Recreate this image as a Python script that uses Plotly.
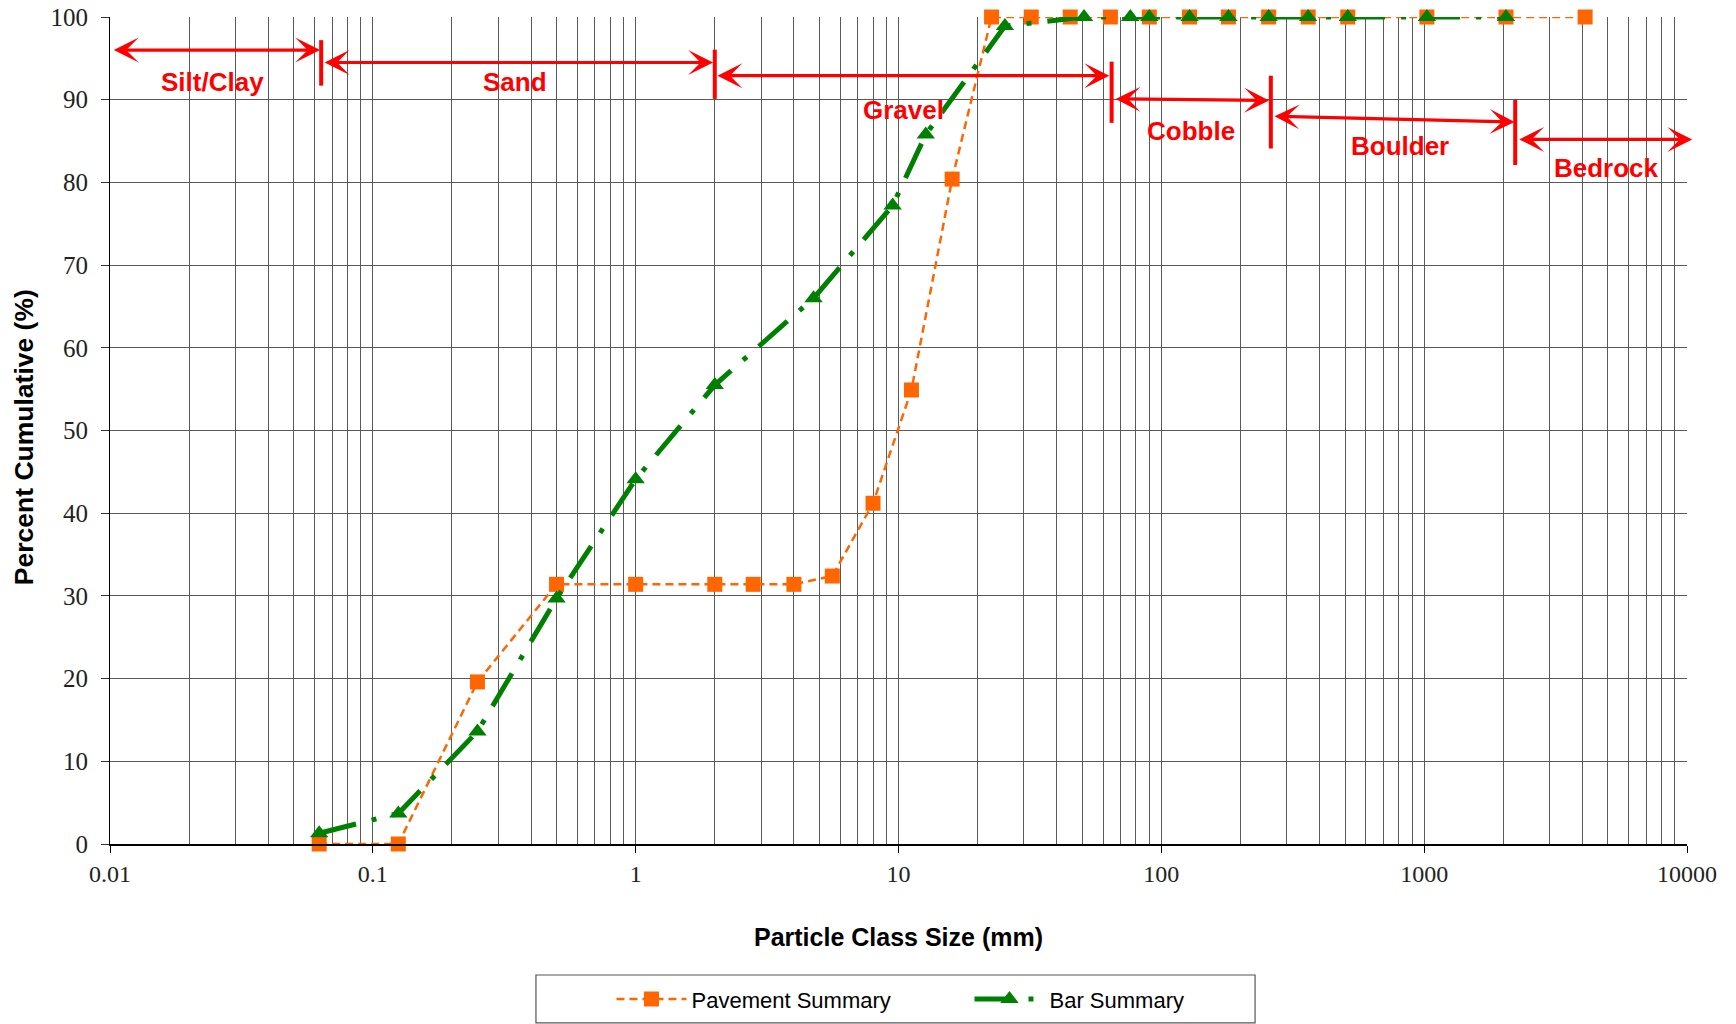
import numpy as np
import plotly.graph_objects as go

# ---- Particle size distribution data (mm vs cumulative percent finer) ----
pavement_size_mm = [0.0625, 0.125, 0.25, 0.5, 1, 2, 2.8, 4, 5.6, 8, 11.2, 16,
                    22.6, 32, 45, 64, 90, 128, 180, 256, 362, 512, 1024, 2048, 4096]
pavement_pct = [0, 0, 19.6, 31.4, 31.4, 31.4, 31.4, 31.4, 32.4, 41.2, 54.9, 80.4,
                100, 100, 100, 100, 100, 100, 100, 100, 100, 100, 100, 100, 100]

bar_size_mm = [0.0625, 0.125, 0.25, 0.5, 1, 2, 4.75, 9.5, 12.7, 25.4,
               50.8, 76.2, 90, 128, 180, 256, 362, 512, 1024, 2048]
bar_pct = [1.3, 3.7, 13.6, 29.7, 44.1, 55.5, 66.0, 77.2, 85.8, 98.9,
           100, 100, 100, 100, 100, 100, 100, 100, 100, 100]

# ---- Axis ticks ----
decade_vals = [0.01, 0.1, 1, 10, 100, 1000, 10000]
decade_text = ["0.01", "0.1", "1", "10", "100", "1000", "10000"]
minor_vals = [m * 10.0 ** k for k in range(-2, 4) for m in range(2, 10)]
pct_ticks = list(range(0, 101, 10))

# ---- Size class names ----
class_names = ["Silt/Clay", "Sand", "Gravel", "Cobble", "Boulder", "Bedrock"]

# Layout of the red class markers: arrow span (mm) and height (%), label spot
class_arrows = [
    (0.0102, 0.0630, 96.0, 96.0),
    (0.0647, 1.97, 94.5, 94.5),
    (2.02, 63.4, 92.9, 92.9),
    (66.1, 257, 90.1, 89.9),
    (266, 2208, 88.0, 87.3),
    (2270, 10470, 85.2, 85.2),
]
class_label_pos = [(0.02464, 92.1), (0.3485, 92.1), (10.45, 88.8),
                   (129.7, 86.2), (811, 84.4), (4920, 81.7)]
divider_x_mm = [0.0636, 2.0, 64.7, 261, 2220]
divider_span = [(91.7, 97.2), (90.1, 96.05), (87.2, 94.6), (84.1, 92.9), (82.1, 90.0)]

ORANGE = "#FF6600"
GREEN = "#008000"
RED = "#FF0000"
GRID = "#5a5a5a"
SANS = "Liberation Sans, Arial, sans-serif"
SERIF = "Liberation Serif, Times New Roman, serif"

fig = go.Figure()

fig.add_trace(go.Scatter(
    x=pavement_size_mm, y=pavement_pct, name="Pavement Summary",
    mode="lines+markers", cliponaxis=False,
    line=dict(color=ORANGE, width=2.5, dash="8px,5px"),
    marker=dict(symbol="square", size=15, color=ORANGE),
))
fig.add_trace(go.Scatter(
    x=bar_size_mm, y=bar_pct, name="Bar Summary",
    mode="lines+markers", cliponaxis=False,
    line=dict(color=GREEN, width=5, dash="38px,16px,5px,16px"),
    marker=dict(symbol="triangle-up", size=16, color=GREEN),
))

# vertical class dividers
for xd, (y0, y1) in zip(divider_x_mm, divider_span):
    fig.add_trace(go.Scatter(
        x=[xd, xd], y=[y0, y1], mode="lines", showlegend=False,
        hoverinfo="skip", cliponaxis=False,
        line=dict(color=RED, width=4),
    ))

# double-headed class arrows (annotation coordinates are log10 on a log axis)
for (x0, x1, y0, y1) in class_arrows:
    fig.add_annotation(
        x=np.log10(x1), y=y1, ax=np.log10(x0), ay=y0,
        xref="x", yref="y", axref="x", ayref="y",
        text="", showarrow=True, arrowside="end+start",
        arrowhead=3, startarrowhead=3, arrowsize=1.3, startarrowsize=1.3,
        arrowwidth=3.2, arrowcolor=RED, standoff=0, startstandoff=0,
    )

for name, (lx, ly) in zip(class_names, class_label_pos):
    fig.add_annotation(
        x=np.log10(lx), y=ly, xref="x", yref="y", text="<b>%s</b>" % name,
        showarrow=False, font=dict(family=SANS, size=26, color=RED),
        xanchor="center", yanchor="middle",
    )

# y-axis title, set slightly below the plot centre
fig.add_annotation(
    x=-0.0545, y=0.492, xref="paper", yref="paper", textangle=-90,
    text="<b>Percent Cumulative (%)</b>", showarrow=False,
    font=dict(family=SANS, size=26.5, color="black"),
    xanchor="center", yanchor="middle",
)

# legend frame
fig.add_shape(type="rect", xref="paper", yref="paper",
              x0=0.2701, x1=0.7261, y0=-0.2164, y1=-0.1584,
              line=dict(color="#555555", width=1.2), fillcolor="rgba(0,0,0,0)")

fig.update_layout(
    width=1736, height=1024,
    margin=dict(l=110, r=49, t=17, b=180, autoexpand=False),
    plot_bgcolor="white", paper_bgcolor="white",
    showlegend=True,
    legend=dict(
        orientation="h", x=0.318, xanchor="left", y=-0.1876, yanchor="middle",
        font=dict(family=SANS, size=22, color="black"),
        itemwidth=70, entrywidth=273, bgcolor="rgba(0,0,0,0)", borderwidth=0,
    ),
    xaxis=dict(
        type="log", range=[-2, 4],
        tickmode="array", tickvals=decade_vals, ticktext=decade_text,
        ticks="outside", ticklen=7, tickcolor="black", tickwidth=1,
        showgrid=True, gridcolor=GRID, gridwidth=1,
        minor=dict(tickvals=minor_vals, showgrid=True, gridcolor=GRID,
                   gridwidth=1, ticks=""),
        showline=True, linecolor="black", linewidth=1.5, zeroline=False,
        tickfont=dict(family=SERIF, size=24, color="#222222"),
        title=dict(text="<b>Particle Class Size (mm)</b>", standoff=43,
                   font=dict(family=SANS, size=25, color="black")),
    ),
    yaxis=dict(
        range=[0, 100], tickmode="array", tickvals=pct_ticks,
        ticks="outside", ticklen=8, tickcolor="#333333",
        showgrid=True, gridcolor=GRID, gridwidth=1,
        showline=True, linecolor="black", linewidth=1, zeroline=False,
        tickfont=dict(family=SERIF, size=25, color="#222222"),
        ticklabelstandoff=8,
    ),
)

fig.write_html("out.html")
